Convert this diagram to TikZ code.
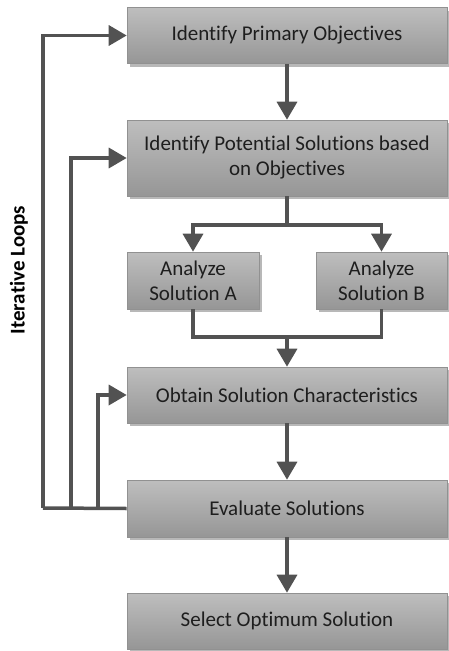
\documentclass[tikz,border=0pt]{standalone}
\usepackage{fontspec}
\setmainfont[Ligatures=NoCommon]{Carlito}
\usetikzlibrary{arrows.meta,shadows,shadings}
\definecolor{boxtop}{RGB}{190,190,190}
\definecolor{boxbot}{RGB}{150,150,150}
\definecolor{boxline}{RGB}{145,145,145}
\definecolor{conncol}{RGB}{82,82,82}
\definecolor{txtcol}{RGB}{30,30,30}
\tikzset{
  box/.style={draw=boxline, line width=0.6pt, top color=boxtop, bottom color=boxbot,
    text=txtcol, font=\fontsize{21}{25}\selectfont, align=center, inner sep=2pt,
    drop shadow={shadow xshift=3pt, shadow yshift=-3pt, fill=black!35, opacity=0.8}},
  conn/.style={draw=conncol, line width=3.5pt},
  arr/.style={conn, -{Triangle[width=20pt,length=18pt]}},
}
\begin{document}
\begin{tikzpicture}[x=1pt,y=-1pt]
\useasboundingbox (0,0) rectangle (448,651);
\node[box, minimum width=320pt, minimum height=56pt] (b1) at (287,35.5) {Identify Primary Objectives};
\node[box, minimum width=320pt, minimum height=76pt] (b2) at (287,158) {Identify Potential Solutions based\\on Objectives};
\node[box, minimum width=132pt, minimum height=57pt] (sa) at (193,280.5) {Analyze\\Solution A};
\node[box, minimum width=131pt, minimum height=57pt] (sb) at (381.5,280.5) {Analyze\\Solution B};
\node[box, minimum width=320pt, minimum height=56pt] (b3) at (287,395) {Obtain Solution Characteristics};
\node[box, minimum width=320pt, minimum height=57pt] (b4) at (287,508.5) {Evaluate Solutions};
\node[box, minimum width=320pt, minimum height=56pt] (b5) at (287,621) {Select Optimum Solution};
\node[rotate=90, font=\fontsize{21}{25}\selectfont\bfseries, text=black] (lbl) at (19,270) {Iterative Loops};
\coordinate (split) at (287,225);
\coordinate (merge) at (287,337);
\coordinate (l1) at (43,508);
\coordinate (l2) at (71,508);
\coordinate (l3) at (98,508);
\draw[arr] (b1.south) -- (b2.north);
\draw[conn] (b2.south) -- (split);
\draw[arr] (split) -| (sa.north);
\draw[arr] (split) -| (sb.north);
\draw[conn] (sa.south) |- (merge);
\draw[conn] (sb.south) |- (merge);
\draw[arr] (merge) -- (b3.north);
\draw[arr] (b3.south) -- (b4.north);
\draw[arr] (b4.south) -- (b5.north);
\draw[conn] (b4.west) -- (l1);
\draw[arr] (l1) |- (b1.west);
\draw[arr] (l2) |- (b2.west);
\draw[arr] (l3) |- (b3.west);
\end{tikzpicture}
\end{document}
